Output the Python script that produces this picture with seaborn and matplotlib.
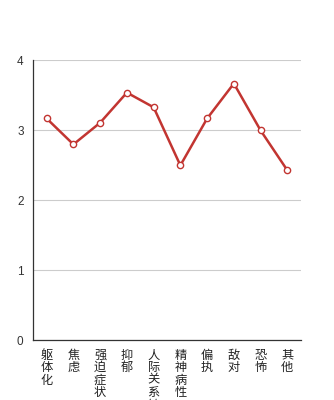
import matplotlib
matplotlib.use("Agg")
import matplotlib.pyplot as plt
import seaborn as sns
import pandas as pd
import numpy as np
from matplotlib.ticker import FixedLocator

categories = ["躯体化", "焦虑", "强迫症状", "抑郁", "人际关系敏感", "精神病性", "偏执", "敌对", "恐怖", "其他"]
values = [3.17, 2.80, 3.11, 3.54, 3.33, 2.50, 3.17, 3.67, 3.00, 2.43]
yticks = [0, 1, 2, 3, 4]

sns.set_style("white")
plt.rcParams['font.family'] = ['Noto Sans CJK SC', 'DejaVu Sans']

df = pd.DataFrame({"pos": np.arange(len(categories)), "value": values, "cat": categories})

fig = plt.figure(figsize=(3.34, 4.00), dpi=100)
ax = fig.add_axes([0.0997, 0.149, 0.8006, 0.700])

color = "#c23531"
sns.lineplot(data=df, x="pos", y="value", ax=ax, color=color, linewidth=1.8,
             marker="o", markersize=4.5, markerfacecolor="white",
             markeredgecolor=color, markeredgewidth=1.0)

ax.set_xlim(-0.5, len(categories) - 0.5)
ax.set_ylim(0, 4)
ax.set_yticks(yticks)
ax.set_yticklabels([str(t) for t in yticks], fontsize=8.5, color="#333333",
                   family=['Liberation Sans', 'DejaVu Sans'])
ax.yaxis.grid(True, color="#cccccc", linewidth=0.8)
ax.set_axisbelow(True)

ax.xaxis.set_major_locator(FixedLocator(np.arange(-0.5, len(categories), 1.0)))
ax.set_xticklabels([])
ax.xaxis.set_minor_locator(FixedLocator(np.arange(len(categories))))
ax.set_xticklabels(["\n".join(c) for c in categories], minor=True, fontsize=8.8,
                   color="#222222", linespacing=0.95, va="top")
ax.tick_params(axis="x", which="minor", length=0, pad=6)
ax.tick_params(axis="x", which="major", length=4, width=0.8, color="#333333", direction="out")
ax.tick_params(axis="y", length=4, width=0.8, color="#333333", direction="out", pad=3)

for s in ["top", "right"]:
    ax.spines[s].set_visible(False)
for s in ["left", "bottom"]:
    ax.spines[s].set_color("#333333")
    ax.spines[s].set_linewidth(0.9)

ax.set_xlabel("")
ax.set_ylabel("")

fig.savefig("out.png", dpi=100)
